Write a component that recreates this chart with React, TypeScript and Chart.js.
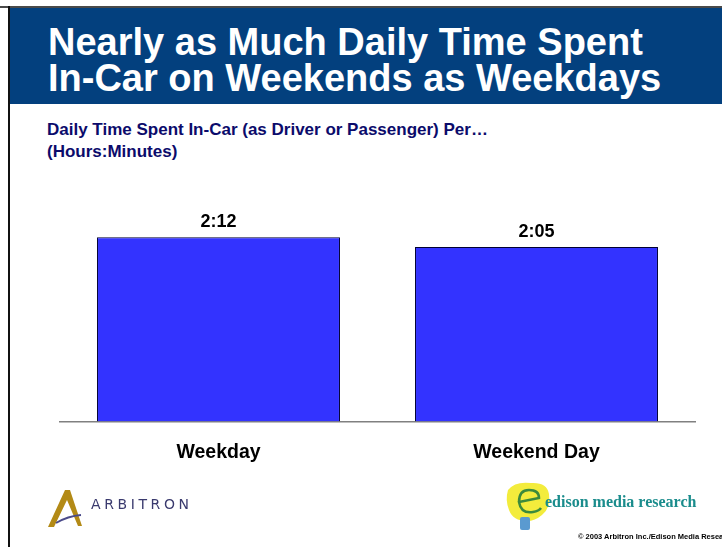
import React, { useEffect, useRef } from "react";
import { Chart, registerables } from "chart.js";

Chart.register(...registerables);

const categories = ["Weekday", "Weekend Day"];
const minutesPerDay = [132, 125];
const yMax = 150;

const titleLines = ["Nearly as Much Daily Time Spent", "In-Car on Weekends as Weekdays"];
const subtitleLines = ["Daily Time Spent In-Car (as Driver or Passenger) Per\u2026", "(Hours:Minutes)"];

const FONT = "'Liberation Sans', Arial, Helvetica, sans-serif";

function fmt(min: number): string {
  const h = Math.floor(min / 60);
  const m = Math.round(min - h * 60);
  return `${h}:${m < 10 ? "0" : ""}${m}`;
}

const valueLabelPlugin = {
  id: "valueLabels",
  afterDatasetsDraw(chart: any) {
    const ctx = chart.ctx;
    const meta = chart.getDatasetMeta(0);
    ctx.save();
    ctx.font = `bold 18px ${FONT}`;
    ctx.fillStyle = "#000000";
    ctx.textAlign = "center";
    ctx.textBaseline = "alphabetic";
    meta.data.forEach((bar: any, i: number) => {
      const v = chart.data.datasets[0].data[i] as number;
      ctx.fillText(fmt(v), bar.x, bar.y - 10);
    });
    ctx.restore();
  },
};

export default function App() {
  const ref = useRef<HTMLCanvasElement | null>(null);

  useEffect(() => {
    if (!ref.current) return;
    const chart = new Chart(ref.current, {
      type: "bar",
      data: {
        labels: categories,
        datasets: [
          {
            data: minutesPerDay,
            backgroundColor: "#3333FF",
            borderColor: "#000033",
            borderWidth: 1,
            barPercentage: 0.764,
            categoryPercentage: 1,
          },
        ],
      },
      options: {
        animation: false,
        responsive: false,
        maintainAspectRatio: false,
        layout: { padding: { left: 59.5, right: 26.5, top: 212, bottom: 64 } },
        plugins: { legend: { display: false }, tooltip: { enabled: false } },
        scales: {
          x: {
            grid: { display: false, drawTicks: false },
            border: { display: true, color: "#808080", width: 1.5 },
            ticks: {
              color: "#000000",
              font: { family: FONT, size: 19.5, weight: "bold" },
              padding: 19,
            },
          },
          y: { display: false, min: 0, max: yMax },
        },
      },
      plugins: [valueLabelPlugin],
    });
    return () => chart.destroy();
  }, []);

  return (
    <div
      style={{
        position: "fixed",
        left: 0,
        top: 0,
        width: 722,
        height: 547,
        overflow: "hidden",
        background: "#ffffff",
        fontFamily: FONT,
      }}
    >
      <div style={{ position: "absolute", left: 0, top: 6, width: 722, height: 2, background: "#4a4a4a" }} />
      <div style={{ position: "absolute", left: 8, top: 6, width: 2, height: 541, background: "#111111" }} />
      <div style={{ position: "absolute", left: 10, top: 8, width: 712, height: 96, background: "#03407E" }} />
      <div
        style={{
          position: "absolute",
          left: 48,
          top: 24,
          color: "#ffffff",
          fontWeight: "bold",
          fontSize: 38,
          lineHeight: "36px",
          whiteSpace: "nowrap",
        }}
      >
        {titleLines.map((t) => (
          <div key={t}>{t}</div>
        ))}
      </div>
      <div
        style={{
          position: "absolute",
          left: 47,
          top: 119,
          color: "#0b0b6b",
          fontWeight: "bold",
          fontSize: 17,
          lineHeight: "22px",
          whiteSpace: "nowrap",
        }}
      >
        {subtitleLines.map((t) => (
          <div key={t}>{t}</div>
        ))}
      </div>
      <canvas ref={ref} width={722} height={547} style={{ position: "absolute", left: 0, top: 0, width: 722, height: 547 }} />
      {/* Arbitron logo */}
      <svg style={{ position: "absolute", left: 44, top: 486 }} width={170} height={46}>
        <polygon points="21,4 26,4 38,40 34,40 23,14 10,41 4,41" fill="#b38a16" />
        <path d="M12,37 Q24,30 37,29" stroke="#4a4a8a" strokeWidth={2} fill="none" />
        <text x={47} y={23} fontFamily="'DejaVu Sans', sans-serif" fontSize={14} letterSpacing={3.6} fill="#3a3a6e">
          ARBITRON
        </text>
      </svg>
      {/* Edison logo */}
      <svg style={{ position: "absolute", left: 505, top: 480 }} width={217} height={56}>
        <path d="M3,10 Q10,1 26,3 Q42,2 44,14 Q46,28 37,35 Q30,41 22,41 Q8,41 4,30 Q0,20 3,10 Z" fill="#f3ec3c" />
        <path d="M14,22 Q14,10 24,10 Q34,10 34,18 L14,22 Q16,34 28,32 Q34,31 36,28" stroke="#3c8a3c" strokeWidth={2.5} fill="none" />
        <rect x={15} y={37} width={10} height={13} rx={2} fill="#5a9ad0" />
        <text x={40} y={27} fontFamily="'Liberation Serif', 'Times New Roman', serif" fontWeight="bold" fontSize={16} fill="#1a8c8c">
          edison media research
        </text>
      </svg>
      <div
        style={{
          position: "absolute",
          left: 578,
          top: 532,
          fontSize: 7.5,
          fontWeight: "bold",
          color: "#000000",
          whiteSpace: "nowrap",
        }}
      >
        © 2003 Arbitron Inc./Edison Media Research
      </div>
    </div>
  );
}
